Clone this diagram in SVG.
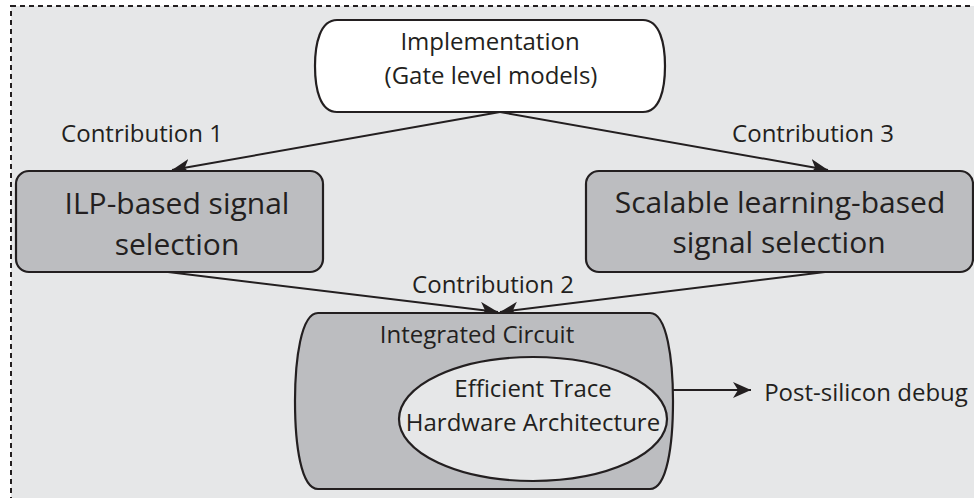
<svg xmlns="http://www.w3.org/2000/svg" width="974" height="498" viewBox="0 0 974 498">
  <style>
    .lbl { font-family: "Open Sans", "Noto Sans", "Liberation Sans", sans-serif; fill: #231f20; text-anchor: middle; }
    .shape { stroke: #231f20; stroke-width: 2.2; }
    .gray { fill: #bcbdc0; }
    .edge { fill: none; stroke: #231f20; stroke-width: 2; marker-end: url(#head); }
  </style>
  <defs>
    <marker id="head" markerUnits="userSpaceOnUse" markerWidth="20" markerHeight="18" refX="18" refY="8" orient="auto">
      <path d="M0,0 L18,8 L0,16 L5,8 Z" fill="#231f20"/>
    </marker>
  </defs>

  <!-- frame -->
  <rect x="0" y="0" width="974" height="498" fill="#ffffff"/>
  <rect x="11" y="6" width="980" height="510" fill="#e6e7e8" stroke="#231f20" stroke-width="2" stroke-dasharray="5,4"/>

  <!-- connectors -->
  <g id="connectors">
    <line class="edge" x1="500" y1="112" x2="172" y2="170"/>
    <line class="edge" x1="500" y1="112" x2="828" y2="170"/>
    <line class="edge" x1="168" y1="272" x2="498" y2="312"/>
    <line class="edge" x1="825" y1="272" x2="500" y2="312"/>
    <line class="edge" x1="673" y1="390" x2="751" y2="390"/>
  </g>

  <g id="implementation">
    <path class="shape" fill="#ffffff" d="M337,20 H643 C660,20 665,44 665,66 C665,89 660,112 643,112 H337 C320,112 315,89 315,66 C315,44 320,20 337,20 Z"/>
    <text class="lbl" x="490" y="50" font-size="24">Implementation</text>
    <text class="lbl" x="491" y="84" font-size="24">(Gate level models)</text>
  </g>

  <g id="labels">
    <text class="lbl" x="142" y="142" font-size="24">Contribution 1</text>
    <text class="lbl" x="813" y="142" font-size="24">Contribution 3</text>
    <text class="lbl" x="493" y="293" font-size="24">Contribution 2</text>
  </g>

  <g id="ilp">
    <rect class="shape gray" x="16" y="171" width="307" height="101" rx="13"/>
    <text class="lbl" x="177" y="214" font-size="30">ILP-based signal</text>
    <text class="lbl" x="177" y="255" font-size="30">selection</text>
  </g>

  <g id="scalable">
    <rect class="shape gray" x="586" y="171" width="387" height="101" rx="13"/>
    <text class="lbl" x="780" y="213" font-size="30">Scalable learning-based</text>
    <text class="lbl" x="779" y="253" font-size="30">signal selection</text>
  </g>

  <g id="integrated-circuit">
    <path class="shape gray" d="M318,313 H650 C667,313 673,360 673,401 C673,445 667,489 650,489 H318 C301,489 295,445 295,401 C295,360 301,313 318,313 Z"/>
    <text class="lbl" x="477" y="343" font-size="24">Integrated Circuit</text>
  </g>

  <g id="trace-hardware">
    <ellipse class="shape" fill="#e6e7e8" cx="533" cy="419" rx="134" ry="62"/>
    <text class="lbl" x="533" y="397" font-size="24">Efficient Trace</text>
    <text class="lbl" x="533" y="431" font-size="24">Hardware Architecture</text>
  </g>

  <g id="post-silicon">
    <text class="lbl" x="866" y="401" font-size="24">Post-silicon debug</text>
  </g>
</svg>
